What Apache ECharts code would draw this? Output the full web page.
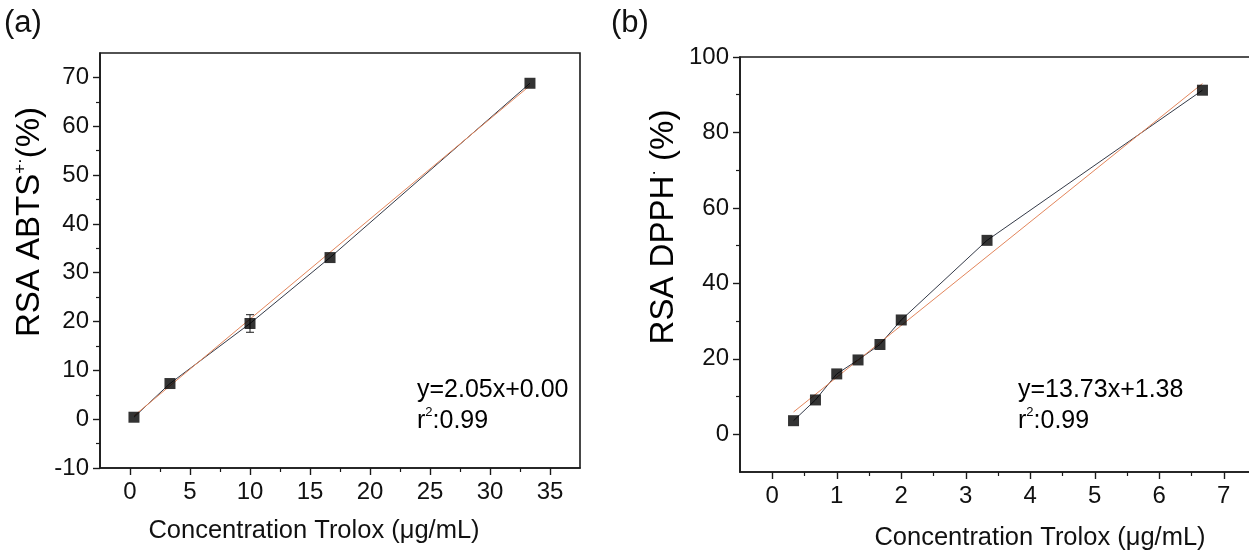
<!DOCTYPE html>
<html>
<head>
<meta charset="utf-8">
<script src="https://cdn.jsdelivr.net/npm/echarts@6/dist/echarts.min.js"></script>
<style>
  html, body { margin: 0; padding: 0; background: #fff; overflow: hidden; }
  /* panel (b) runs off the right edge of the page */
  #chart { width: 1300px; height: 554px; }
</style>
</head>
<body>
<div id="chart"></div>
<script>
// Panel (a): ABTS radical scavenging activity vs Trolox concentration
const abtsConc = [0.33, 3.33, 10, 16.67, 33.33];
const abtsRsa  = [0.4, 7.3, 19.6, 33.1, 68.8];
const abtsErr  = [0, 0, 1.8, 0, 0];
const abtsFit  = [2.05, 0.00];          // slope, intercept
const abtsXTicks = [0, 5, 10, 15, 20, 25, 30, 35];
const abtsXMinor = [2.5, 7.5, 12.5, 17.5, 22.5, 27.5, 32.5];
const abtsYTicks = [-10, 0, 10, 20, 30, 40, 50, 60, 70];
const abtsYMinor = [-5, 5, 15, 25, 35, 45, 55, 65];

// Panel (b): DPPH radical scavenging activity vs Trolox concentration
const dpphConc = [0.33, 0.67, 1, 1.33, 1.67, 2, 3.33, 6.67];
const dpphRsa  = [3.6, 9.1, 16.0, 19.7, 23.8, 30.3, 51.4, 91.2];
const dpphFit  = [13.73, 1.38];         // slope, intercept
const dpphXTicks = [0, 1, 2, 3, 4, 5, 6, 7];
const dpphXMinor = [0.5, 1.5, 2.5, 3.5, 4.5, 5.5, 6.5, 7.5];
const dpphYTicks = [0, 20, 40, 60, 80, 100];
const dpphYMinor = [10, 30, 50, 70, 90];

const FONT = '"Liberation Sans", Arial, Helvetica, sans-serif';
const INK = '#1a1a1a';

function pairs(xs, ys) { return xs.map((x, i) => [x, ys[i]]); }
function fitLine(xs, fit) {
  const x0 = xs[0], x1 = xs[xs.length - 1];
  return [[x0, fit[0] * x0 + fit[1]], [x1, fit[0] * x1 + fit[1]]];
}

// A main axis (line, major ticks, labels) plus a companion axis carrying only minor ticks
function axisPair(dim, gridIndex, min, max, majors, minors) {
  const pos = dim === 'x' ? 'bottom' : 'left';
  const main = {
    type: 'value', gridIndex, min, max, position: pos,
    axisLine: { show: true, onZero: false, lineStyle: { color: INK, width: 1.6 } },
    axisTick: { show: true, inside: false, length: 7, customValues: majors,
                lineStyle: { color: INK, width: 1.4 } },
    axisLabel: { customValues: majors, margin: dim === 'x' ? 12 : 11,
                 fontSize: 24, color: '#111', fontFamily: FONT },
    splitLine: { show: false }
  };
  const minor = {
    type: 'value', gridIndex, min, max, position: pos, offset: 0,
    axisLine: { show: false, onZero: false },
    axisTick: { show: true, inside: false, length: 4, customValues: minors,
                lineStyle: { color: INK, width: 1.2 } },
    axisLabel: { show: false },
    splitLine: { show: false }
  };
  return [main, minor];
}

const xAxes = [
  ...axisPair('x', 0, -2.5, 37.5, abtsXTicks, abtsXMinor),
  ...axisPair('x', 1, -0.5, 7.5, dpphXTicks, dpphXMinor)
];
const yAxes = [
  ...axisPair('y', 0, -10, 75, abtsYTicks, abtsYMinor),
  ...axisPair('y', 1, -10, 100, dpphYTicks, dpphYMinor)
];

function errorBars(xs, ys, es) {
  const out = [];
  xs.forEach((x, i) => { if (es[i] > 0) out.push([x, ys[i] - es[i], ys[i] + es[i]]); });
  return out;
}

function renderErrorBar(params, api) {
  const x = api.value(0);
  const lo = api.coord([x, api.value(1)]);
  const hi = api.coord([x, api.value(2)]);
  const w = 4;
  const st = { stroke: INK, lineWidth: 1 };
  return {
    type: 'group',
    children: [
      { type: 'line', shape: { x1: lo[0], y1: lo[1], x2: hi[0], y2: hi[1] }, style: st },
      { type: 'line', shape: { x1: lo[0] - w, y1: lo[1], x2: lo[0] + w, y2: lo[1] }, style: st },
      { type: 'line', shape: { x1: hi[0] - w, y1: hi[1], x2: hi[0] + w, y2: hi[1] }, style: st }
    ]
  };
}

function panelSeries(ax, xs, ys, fit) {
  return [
    { type: 'line', xAxisIndex: ax, yAxisIndex: ax, data: pairs(xs, ys),
      symbol: 'none', lineStyle: { color: '#343a48', width: 1 }, z: 2, silent: true },
    { type: 'line', xAxisIndex: ax, yAxisIndex: ax, data: fitLine(xs, fit),
      symbol: 'none', lineStyle: { color: '#e3865c', width: 1 }, z: 3, silent: true },
    { type: 'scatter', xAxisIndex: ax, yAxisIndex: ax, data: pairs(xs, ys),
      symbol: 'rect', symbolSize: 11, itemStyle: { color: '#000' }, z: 5, silent: true }
  ];
}

const sup = (size, lh) => ({ fontSize: size, fontFamily: FONT, color: '#111', verticalAlign: 'top', lineHeight: lh });
const txt = (size, lh) => ({ fontSize: size, fontFamily: FONT, color: '#111', lineHeight: lh });

const option = {
  backgroundColor: '#fff',
  animation: false,
  grid: [
    { left: 100, top: 53, width: 480, height: 415, show: true, borderColor: INK, borderWidth: 1.6, backgroundColor: 'transparent' },
    { left: 740, top: 57, width: 516, height: 415, show: true, borderColor: INK, borderWidth: 1.6, backgroundColor: 'transparent' }
  ],
  xAxis: xAxes,
  yAxis: yAxes,
  series: [
    ...panelSeries(0, abtsConc, abtsRsa, abtsFit),
    { type: 'custom', xAxisIndex: 0, yAxisIndex: 0, renderItem: renderErrorBar,
      data: errorBars(abtsConc, abtsRsa, abtsErr), z: 4, silent: true },
    ...panelSeries(2, dpphConc, dpphRsa, dpphFit)
  ],
  graphic: [
    { type: 'text', left: 4, top: 8, style: { text: '(a)', fontSize: 31, fontFamily: FONT, fill: '#111' } },
    { type: 'text', left: 611, top: 8, style: { text: '(b)', fontSize: 31, fontFamily: FONT, fill: '#111' } },
    { type: 'text', x: 30, y: 222, rotation: Math.PI / 2,
      style: { text: '{t|RSA ABTS}{s|+·}{t|(%)}', align: 'center', verticalAlign: 'middle',
               rich: { t: txt(33, 36), s: sup(17, 36) } } },
    { type: 'text', x: 664, y: 227, rotation: Math.PI / 2,
      style: { text: '{t|RSA DPPH}{s|·}{t| (%)}', align: 'center', verticalAlign: 'middle',
               rich: { t: txt(33, 36), s: sup(17, 36) } } },
    { type: 'text', x: 314, y: 531,
      style: { text: 'Concentration Trolox (μg/mL)', align: 'center', verticalAlign: 'middle',
               fontSize: 25.5, fontFamily: FONT, fill: '#111' } },
    { type: 'text', x: 1040, y: 538,
      style: { text: 'Concentration Trolox (μg/mL)', align: 'center', verticalAlign: 'middle',
               fontSize: 25.5, fontFamily: FONT, fill: '#111' } },
    { type: 'text', left: 417, top: 378,
      style: { text: '{t|y=2.05x+0.00}\n{t|r}{s|2}{t|:0.99}', align: 'left', verticalAlign: 'top',
               rich: { t: txt(25, 31), s: sup(13, 31) } } },
    { type: 'text', left: 1018, top: 378,
      style: { text: '{t|y=13.73x+1.38}\n{t|r}{s|2}{t|:0.99}', align: 'left', verticalAlign: 'top',
               rich: { t: txt(25, 31), s: sup(13, 31) } } }
  ]
};

echarts.init(document.getElementById('chart')).setOption(option);
</script>
</body>
</html>
